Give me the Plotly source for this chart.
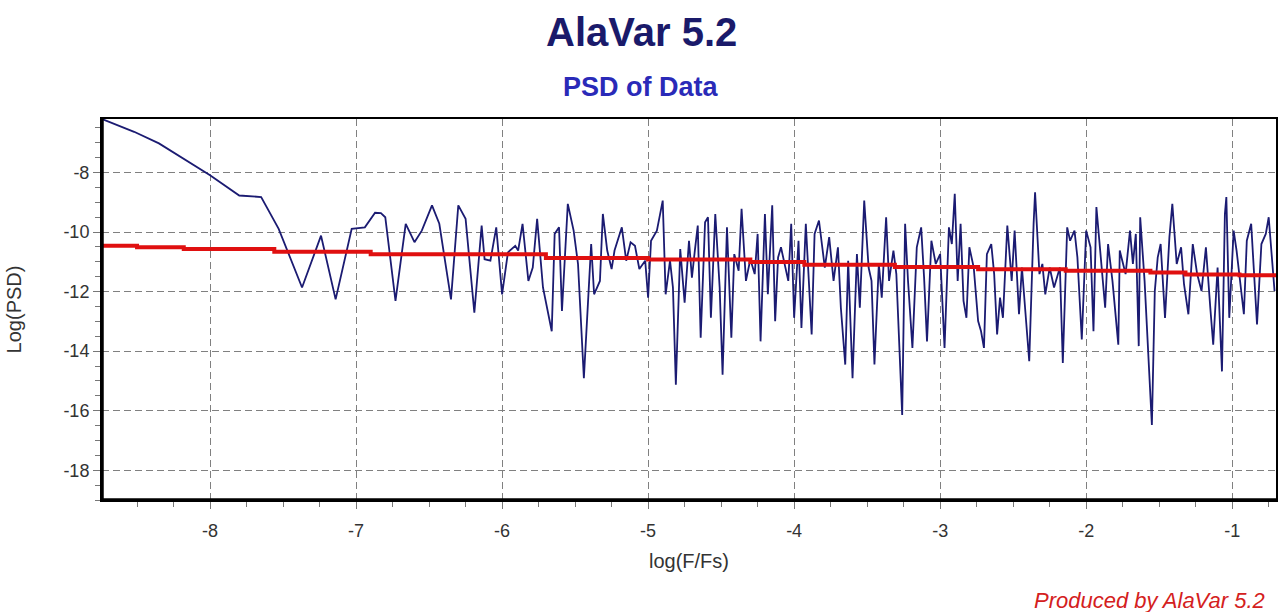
import plotly.graph_objects as go

# ---- data ----
log_f = [-8.74, -8.52, -8.35, -8.00, -7.80, -7.65, -7.53, -7.37, -7.24, -7.14,
         -7.03, -6.94, -6.87, -6.83, -6.80, -6.73, -6.70, -6.66, -6.60, -6.55,
         -6.48, -6.43, -6.35, -6.30, -6.25, -6.19, -6.14, -6.12, -6.08, -6.04,
         -6.00, -5.96, -5.91, -5.89, -5.86, -5.82, -5.79, -5.76, -5.72, -5.66,
         -5.64, -5.61, -5.59, -5.55, -5.51, -5.48, -5.44, -5.42, -5.39, -5.37,
         -5.33, -5.31, -5.28, -5.25, -5.23, -5.18, -5.15, -5.12, -5.09, -5.06,
         -5.02, -5.00, -4.98, -4.94, -4.90, -4.88, -4.85, -4.83, -4.81, -4.78,
         -4.75, -4.72, -4.70, -4.68, -4.66, -4.64, -4.61, -4.59, -4.57, -4.54,
         -4.51, -4.49, -4.46, -4.43, -4.41, -4.38, -4.36, -4.33, -4.30, -4.27,
         -4.25, -4.23, -4.20, -4.18, -4.15, -4.13, -4.11, -4.09, -4.06, -4.04,
         -4.02, -4.00, -3.97, -3.95, -3.92, -3.88, -3.86, -3.83, -3.79, -3.76,
         -3.73, -3.70, -3.68, -3.65, -3.63, -3.60, -3.57, -3.55, -3.52, -3.49,
         -3.47, -3.45, -3.42, -3.40, -3.37, -3.35, -3.32, -3.30, -3.26, -3.24,
         -3.22, -3.19, -3.16, -3.13, -3.11, -3.09, -3.06, -3.03, -3.00, -2.97,
         -2.94, -2.92, -2.90, -2.88, -2.86, -2.84, -2.82, -2.80, -2.77, -2.74,
         -2.72, -2.70, -2.68, -2.65, -2.63, -2.61, -2.59, -2.57, -2.54, -2.51,
         -2.49, -2.46, -2.44, -2.42, -2.39, -2.36, -2.35, -2.32, -2.30, -2.28,
         -2.25, -2.22, -2.18, -2.16, -2.13, -2.11, -2.08, -2.06, -2.03, -2.00,
         -1.97, -1.95, -1.93, -1.90, -1.87, -1.85, -1.82, -1.78, -1.77, -1.73,
         -1.70, -1.68, -1.66, -1.64, -1.63, -1.60, -1.57, -1.55, -1.53, -1.51,
         -1.49, -1.46, -1.43, -1.41, -1.38, -1.35, -1.33, -1.30, -1.27, -1.24,
         -1.21, -1.18, -1.15, -1.13, -1.10, -1.07, -1.05, -1.04, -1.02, -0.99,
         -0.97, -0.94, -0.92, -0.90, -0.87, -0.83, -0.80, -0.77, -0.75, -0.71]

log_psd = [-6.20, -6.63, -7.02, -8.09, -8.77, -8.82, -9.89, -11.86, -10.12, -12.26,
           -9.89, -9.84, -9.35, -9.36, -9.50, -12.31, -11.19, -9.72, -10.34, -9.95,
           -9.10, -9.72, -12.26, -9.10, -9.55, -12.71, -9.78, -10.91, -10.96, -9.84,
           -12.09, -10.68, -10.46, -10.62, -9.72, -11.64, -11.19, -9.55, -11.86, -13.33,
           -10.06, -9.84, -12.65, -9.05, -9.95, -11.07, -14.91, -12.99, -10.40, -12.09,
           -11.64, -9.39, -10.62, -11.24, -10.62, -9.84, -10.96, -10.34, -10.46, -11.24,
           -10.96, -12.20, -10.29, -9.95, -8.94, -12.09, -10.96, -11.86, -15.13, -10.57,
           -12.37, -10.29, -11.53, -10.62, -9.78, -13.55, -9.67, -9.50, -12.88, -9.39,
           -11.86, -14.79, -9.84, -13.55, -10.74, -11.30, -9.22, -11.64, -10.91, -11.41,
           -10.06, -13.67, -9.39, -12.09, -9.10, -12.99, -10.85, -10.51, -11.19, -11.64,
           -9.72, -12.88, -10.29, -13.22, -9.72, -13.44, -10.06, -9.61, -11.19, -10.17,
           -11.64, -10.51, -12.54, -14.45, -10.96, -14.91, -10.74, -12.54, -8.94, -11.19,
           -11.64, -14.45, -11.07, -12.20, -9.50, -11.64, -10.62, -11.41, -16.14, -9.72,
           -11.64, -13.89, -10.51, -9.84, -11.53, -13.67, -10.29, -11.07, -10.74, -13.89,
           -9.84, -10.40, -8.71, -11.64, -9.72, -12.31, -12.88, -10.51, -11.19, -12.99,
           -13.33, -13.89, -10.74, -10.40, -11.41, -13.44, -12.20, -12.88, -9.78, -11.64,
           -9.95, -12.76, -11.19, -12.54, -14.34, -9.72, -8.66, -11.41, -11.07, -12.09,
           -11.19, -11.86, -11.19, -14.40, -9.84, -10.29, -9.95, -10.85, -13.61, -9.95,
           -10.51, -13.33, -9.16, -10.85, -12.54, -10.40, -11.64, -13.78, -10.62, -11.41,
           -9.95, -11.07, -10.06, -13.83, -9.50, -11.64, -14.34, -16.48, -11.98, -10.85,
           -10.40, -12.88, -10.17, -9.05, -11.07, -10.51, -11.75, -12.76, -10.40, -11.41,
           -11.98, -10.51, -12.54, -13.78, -11.19, -14.68, -9.39, -8.82, -12.88, -9.95,
           -10.62, -11.86, -12.76, -10.29, -9.72, -13.10, -10.40, -10.06, -9.50, -11.98]

fit_log_f = [-8.74, -8.50, -8.18, -7.56, -6.90, -5.70, -5.00, -4.30, -3.93, -3.31,
             -2.74, -2.14, -1.56, -1.32, -0.95, -0.70]
fit_log_psd = [-10.46, -10.51, -10.57, -10.66, -10.74, -10.87, -10.92, -11.00, -11.10, -11.17,
               -11.25, -11.30, -11.36, -11.42, -11.45, -11.45]

x_tick_vals = [-8, -7, -6, -5, -4, -3, -2, -1]
x_tick_text = ["-8", "-7", "-6", "-5", "-4", "-3", "-2", "-1"]
y_tick_vals = [-8, -10, -12, -14, -16, -18]
y_tick_text = ["-8", "-10", "-12", "-14", "-16", "-18"]

FONT = "Liberation Sans, Arial, sans-serif"

W, HT = 1285, 612
L, R, T, B = 102, 7, 119, 112
PW, PH = W - L - R, HT - T - B

fig = go.Figure()
fig.add_trace(go.Scatter(x=log_f, y=log_psd, mode="lines",
                         line=dict(color="#1b1b72", width=1.8), showlegend=False))
fig.add_trace(go.Scatter(x=fit_log_f, y=fit_log_psd, mode="lines", line_shape="hv",
                         line=dict(color="#e01010", width=4), showlegend=False))

grid = dict(showgrid=True, gridcolor="#808080", gridwidth=1.3, griddash="7px,4px")

fig.update_xaxes(range=[-8.74, -0.70], tickvals=x_tick_vals, ticktext=x_tick_text,
                 ticks="outside", ticklen=7, tickwidth=1, tickcolor="#777",
                 minor=dict(tick0=0, dtick=0.25, ticks="outside", ticklen=5, tickcolor="#777", showgrid=False),
                 showline=True, linecolor="black", linewidth=2, mirror=True,
                 zeroline=False, tickfont=dict(family=FONT, size=18, color="#333"),
                 ticklabelstandoff=6,
                 title=dict(text="log(F/Fs)", font=dict(family=FONT, size=20, color="#333"), standoff=14),
                 **grid)
fig.update_yaxes(range=[-19.0, -6.2], tickvals=y_tick_vals, ticktext=y_tick_text,
                 ticks="outside", ticklen=7, tickwidth=1, tickcolor="#777",
                 minor=dict(tick0=0, dtick=0.5, ticks="outside", ticklen=5, tickcolor="#777", showgrid=False),
                 showline=True, linecolor="black", linewidth=2, mirror=True,
                 zeroline=False, tickfont=dict(family=FONT, size=18, color="#333"),
                 title=dict(text="Log(PSD)", font=dict(family=FONT, size=20, color="#333"), standoff=36),
                 **grid)

fig.add_shape(type="line", xref="paper", yref="paper", x0=0, x1=0, y0=0, y1=1,
              line=dict(color="black", width=3.5))
fig.add_shape(type="line", xref="paper", yref="paper", x0=0, x1=1, y0=0, y1=0,
              line=dict(color="black", width=3.5))

cx = (642 - L) / PW
fig.add_annotation(text="<b>AlaVar 5.2</b>", xref="paper", yref="paper",
                   x=cx, y=1 + (T - 32) / PH,
                   xanchor="center", yanchor="middle", showarrow=False,
                   font=dict(family=FONT, size=40, color="#1a1a6a"))
fig.add_annotation(text="<b>PSD of Data</b>", xref="paper", yref="paper",
                   x=cx, y=1 + (T - 87) / PH,
                   xanchor="center", yanchor="middle", showarrow=False,
                   font=dict(family=FONT, size=27, color="#2a2ab8"))
fig.add_annotation(text="<i>Produced by AlaVar 5.2</i>", xref="paper", yref="paper",
                   x=1 + (1269 - (L + PW)) / PW, y=-(600 - (T + PH)) / PH,
                   xanchor="right", yanchor="middle", showarrow=False,
                   font=dict(family=FONT, size=22, color="#d42020"))

fig.update_layout(width=W, height=HT, margin=dict(l=L, r=R, t=T, b=B),
                  paper_bgcolor="white", plot_bgcolor="white")

fig.write_html("out.html", config={"displayModeBar": False},
               post_script="document.body.style.margin='0';")
